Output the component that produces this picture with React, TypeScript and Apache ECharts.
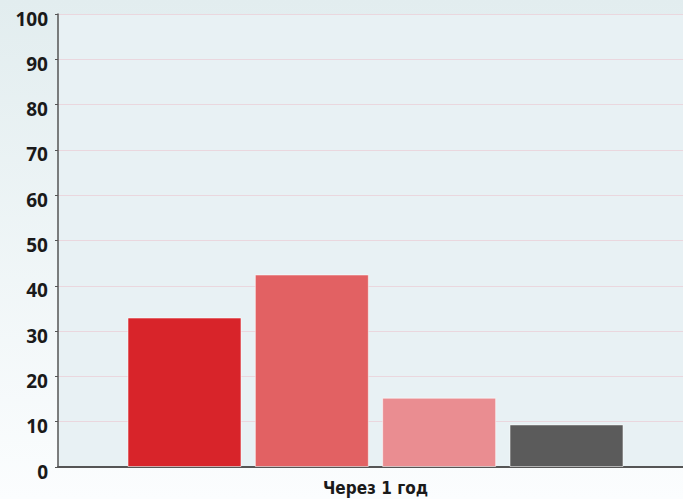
import React, { useEffect, useRef } from "react";
import * as echarts from "echarts";

const categories = ["Через 1 год"];
const seriesA = [33.0];
const seriesB = [42.5];
const seriesC = [15.3];
const seriesD = [9.4];
const colors = ["#d8242a", "#e26163", "#ea8d91", "#5b5b5b"];

export default function App() {
  const ref = useRef<HTMLDivElement>(null);
  useEffect(() => {
    document.body.style.margin = "0";
    document.body.style.overflow = "hidden";
    const chart = echarts.init(ref.current!, undefined, { renderer: "svg" });
    const mk = (data: number[], i: number) => ({
      type: "bar",
      data,
      barWidth: 114,
      barGap: "11.7%",
      itemStyle: { color: colors[i], borderColor: "rgba(255,255,255,0.55)", borderWidth: 1 },
    });
    chart.setOption({
      animation: false,
      backgroundColor: new echarts.graphic.LinearGradient(0, 0, 0, 1, [
        { offset: 0, color: "#e2edef" },
        { offset: 1, color: "#fbfdfe" },
      ]),
      grid: {
        left: 58,
        right: 0,
        top: 14,
        bottom: 32,
        show: true,
        backgroundColor: "#e8f1f4",
        borderWidth: 0,
      },
      xAxis: {
        type: "category",
        data: categories,
        axisLine: { lineStyle: { color: "#555", width: 2 } },
        axisTick: { show: false },
        axisLabel: {
          color: "#1a1a1a",
          fontFamily: "'DejaVu Sans Condensed', 'Noto Sans', sans-serif",
          fontWeight: "bold",
          fontSize: 17,
          margin: 12,
        },
      },
      yAxis: {
        type: "value",
        min: 0,
        max: 100,
        interval: 10,
        axisLine: { show: true, lineStyle: { color: "#555", width: 1.5 } },
        axisTick: { show: true, length: 3, lineStyle: { color: "#555" } },
        splitLine: { lineStyle: { color: "#ead7de", width: 1 } },
        axisLabel: {
          color: "#1a1a1a",
          fontFamily: "Noto Sans",
          fontWeight: "bold",
          fontSize: 19,
          margin: 10,
          verticalAlign: "top",
          lineHeight: 9,
        },
      },
      series: [mk(seriesA, 0), mk(seriesB, 1), mk(seriesC, 2), mk(seriesD, 3)],
    });
    return () => chart.dispose();
  }, []);
  return <div ref={ref} style={{ width: 693, height: 499, position: "fixed", left: 0, top: 0 }} />;
}
